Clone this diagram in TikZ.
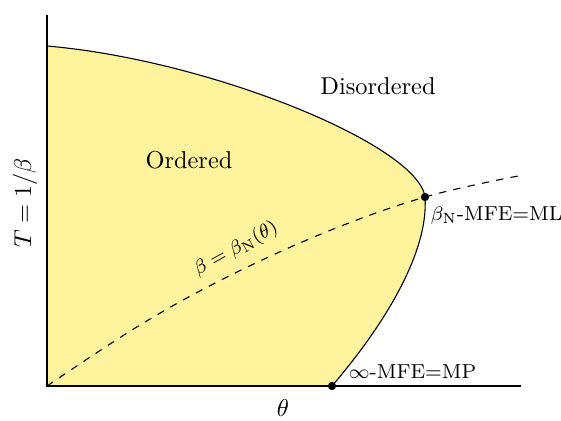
\documentclass[tikz,border=0pt]{standalone}
\usetikzlibrary{calc}
\definecolor{ordfill}{RGB}{255,244,157}
\tikzset{
  dot/.style={circle,fill=black,inner sep=0pt,minimum size=3.4pt},
  lbl/.style={font=\fontsize{8.3}{10}\selectfont,inner sep=1pt},
  reg/.style={inner sep=1pt},
  axis/.style={line width=0.5pt},
  bnd/.style={line width=0.45pt},
  betaline/.style={dashed,line width=0.45pt},
}
\begin{document}
\begin{tikzpicture}[x=0.41pt,y=-0.41pt]
\useasboundingbox (0,0) rectangle (561,420);
\coordinate (O) at (47,386);
\coordinate (ytop) at (47,15);
\coordinate (xend) at (521,386);
\coordinate (T0) at (47,46);
% ordered region
\fill[ordfill] (T0) .. controls (210,60) and (418,145) .. (425,197)
  .. controls (429,255) and (380,330) .. (332,386) -- (O) -- cycle;
\draw[bnd] (T0) .. controls (210,60) and (418,145) .. (425,197)
  .. controls (429,255) and (380,330) .. (332,386);
% axes
\draw[axis] (ytop) -- (O) -- (xend);
% dashed beta line
\draw[betaline] plot[smooth,tension=0.6] coordinates {(47,386) (140,325) (227,277) (326,232) (425,197) (518,176)};
% dots
\node[dot] (ml) at (425,197) {};
\node[dot] (mp) at (332,386) {};
% labels
\node[reg] (dis) at (378,86) {Disordered};
\node[reg] (ord) at (189,160) {Ordered};
\node[reg,rotate=90] (ylab) at (25,203) {$T=1/\beta$};
\node[reg] (xlab) at (283,408) {$\theta$};
\node[lbl,anchor=west] (mllab) at (428,215) {$\beta_{\mathrm{N}}$-MFE=ML};
\node[lbl,anchor=west] (mplab) at (346,372) {$\infty$-MFE=MP};
\node[lbl,rotate=29] (betalab) at (236,249) {$\beta=\beta_{\mathrm{N}}(\theta)$};
\end{tikzpicture}
\end{document}
